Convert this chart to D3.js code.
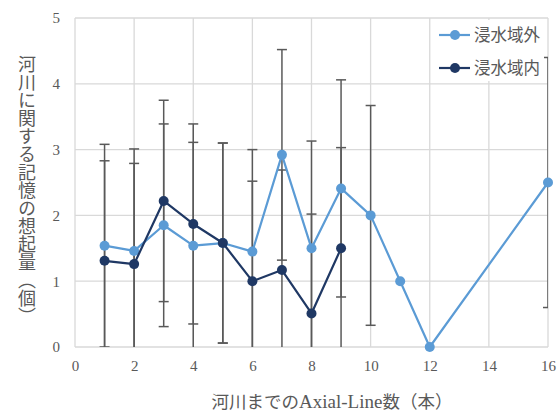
<!DOCTYPE html>
<html><head><meta charset="utf-8">
<script src="https://cdn.jsdelivr.net/npm/d3@7"></script>
<style>body{margin:0;background:#fff}svg{display:block}</style>
</head><body>
<svg id="c" width="558" height="414"></svg>
<script>
const outsideX = [1,2,3,4,5,6,7,8,9,10,11,12,16];
const outsideY = [1.54,1.46,1.85,1.54,1.58,1.45,2.92,1.5,2.41,2.0,1.0,0,2.5];
const outsideErr = [1.54,1.55,1.54,1.57,1.52,1.55,1.6,1.63,1.65,1.67,0,0,1.9];
const insideX = [1,2,3,4,5,6,7,8,9];
const insideY = [1.31,1.26,2.22,1.87,1.58,1.0,1.17,0.51,1.5];
const insideErr = [1.52,1.53,1.53,1.52,1.52,1.52,1.52,1.51,1.53];
const xTicks = [0,2,4,6,8,10,12,14,16];
const yTicks = [0,1,2,3,4,5];
const seriesNames = ["浸水域外","浸水域内"];
const xTitleParts = ["河川までの","Axial-Line","数（本）"];
const yTitle = "河川に関する記憶の想起量（個）";

const colors = ["#5B9BD5","#1F3864"];
const svg = d3.select("#c");
const L=75,R=548,T=18,B=347;
const x = d3.scaleLinear().domain([0,16]).range([L,R]);
const y = d3.scaleLinear().domain([0,5]).range([B,T]);
const grey="#595959";
const serif="'Liberation Serif','Times New Roman',serif";
const jp="'Noto Sans CJK JP',sans-serif";

// grid
svg.append("g").selectAll("line").data(yTicks).join("line")
  .attr("x1",L).attr("x2",R).attr("y1",d=>y(d)).attr("y2",d=>y(d))
  .attr("stroke","#d9d9d9").attr("stroke-width",1.3);
svg.append("g").selectAll("line").data(xTicks).join("line")
  .attr("x1",d=>x(d)).attr("x2",d=>x(d)).attr("y1",T).attr("y2",B)
  .attr("stroke","#d9d9d9").attr("stroke-width",1.3);

// axes labels via d3 axes
const xa = svg.append("g").attr("transform",`translate(0,${B})`)
  .call(d3.axisBottom(x).tickValues(xTicks).tickFormat(d3.format("d")).tickSize(0).tickPadding(13));
xa.select(".domain").remove();
xa.selectAll("text").attr("font-family",serif).attr("font-size",15).attr("fill",grey);
const ya = svg.append("g").attr("transform",`translate(${L},0)`)
  .call(d3.axisLeft(y).tickValues(yTicks).tickFormat(d3.format("d")).tickSize(0).tickPadding(15));
ya.select(".domain").remove();
ya.selectAll("text").attr("font-family",serif).attr("font-size",15).attr("fill",grey);

svg.append("clipPath").attr("id","pb").append("rect")
  .attr("x",L-6).attr("y",0).attr("width",R-L+6).attr("height",B);

// legend box
const lg = svg.append("g");
lg.append("rect").attr("x",436).attr("y",20).attr("width",108).attr("height",61).attr("fill","#fff");

// error bars
function errBars(xs,ys,es){
  const g = svg.append("g").attr("clip-path","url(#pb)");
  const data = xs.map((d,i)=>({x:d,y:ys[i],e:es[i]})).filter(d=>d.e>0);
  g.selectAll("line.v").data(data).join("line")
    .attr("x1",d=>x(d.x)).attr("x2",d=>x(d.x))
    .attr("y1",d=>y(d.y+d.e)).attr("y2",d=>y(d.y-d.e))
    .attr("stroke",grey).attr("stroke-width",1.5);
  [1,-1].forEach(s=>{
    g.selectAll("line.c"+s).data(data).join("line")
      .attr("x1",d=>Math.min(x(d.x)-5,R)).attr("x2",d=>Math.min(x(d.x)+5,R))
      .attr("y1",d=>y(d.y+s*d.e)).attr("y2",d=>y(d.y+s*d.e))
      .attr("stroke",grey).attr("stroke-width",1.5);
  });
}
errBars(outsideX,outsideY,outsideErr);
errBars(insideX,insideY,insideErr);

// series
function series(xs,ys,c){
  const pts = xs.map((d,i)=>[d,ys[i]]);
  svg.append("path").datum(pts)
    .attr("d",d3.line().x(d=>x(d[0])).y(d=>y(d[1])))
    .attr("fill","none").attr("stroke",c).attr("stroke-width",2.2).attr("stroke-linejoin","round");
  svg.append("g").selectAll("circle").data(pts).join("circle")
    .attr("cx",d=>x(d[0])).attr("cy",d=>y(d[1])).attr("r",5).attr("fill",c);
}
series(outsideX,outsideY,colors[0]);
series(insideX,insideY,colors[1]);

// legend
seriesNames.forEach((n,i)=>{
  const yy = 35 + i*33;
  lg.append("line").attr("x1",439).attr("x2",470).attr("y1",yy).attr("y2",yy)
    .attr("stroke",colors[i]).attr("stroke-width",2.2);
  lg.append("circle").attr("cx",455).attr("cy",yy).attr("r",5).attr("fill",colors[i]);
  lg.append("text").attr("x",474).attr("y",yy).attr("dy","0.36em")
    .attr("font-family",jp).attr("font-size",16.5).attr("fill",grey).text(n);
});
svg.node().appendChild(lg.node());

// titles
svg.append("text").attr("x",332).attr("y",402).attr("dy","0.36em").attr("text-anchor","middle")
  .attr("font-family",jp).attr("font-size",17.5).attr("fill",grey)
  .selectAll("tspan").data(xTitleParts).join("tspan")
  .attr("font-family",(d,i)=>i==1?serif:jp).attr("font-size",(d,i)=>i==1?19:17.5).text(d=>d);
svg.append("text").attr("x",24).attr("y",190).attr("text-anchor","middle")
  .attr("font-family",jp).attr("font-size",18).attr("fill",grey)
  .style("writing-mode","vertical-rl").attr("dominant-baseline","middle").text(yTitle);
</script>
</body></html>
